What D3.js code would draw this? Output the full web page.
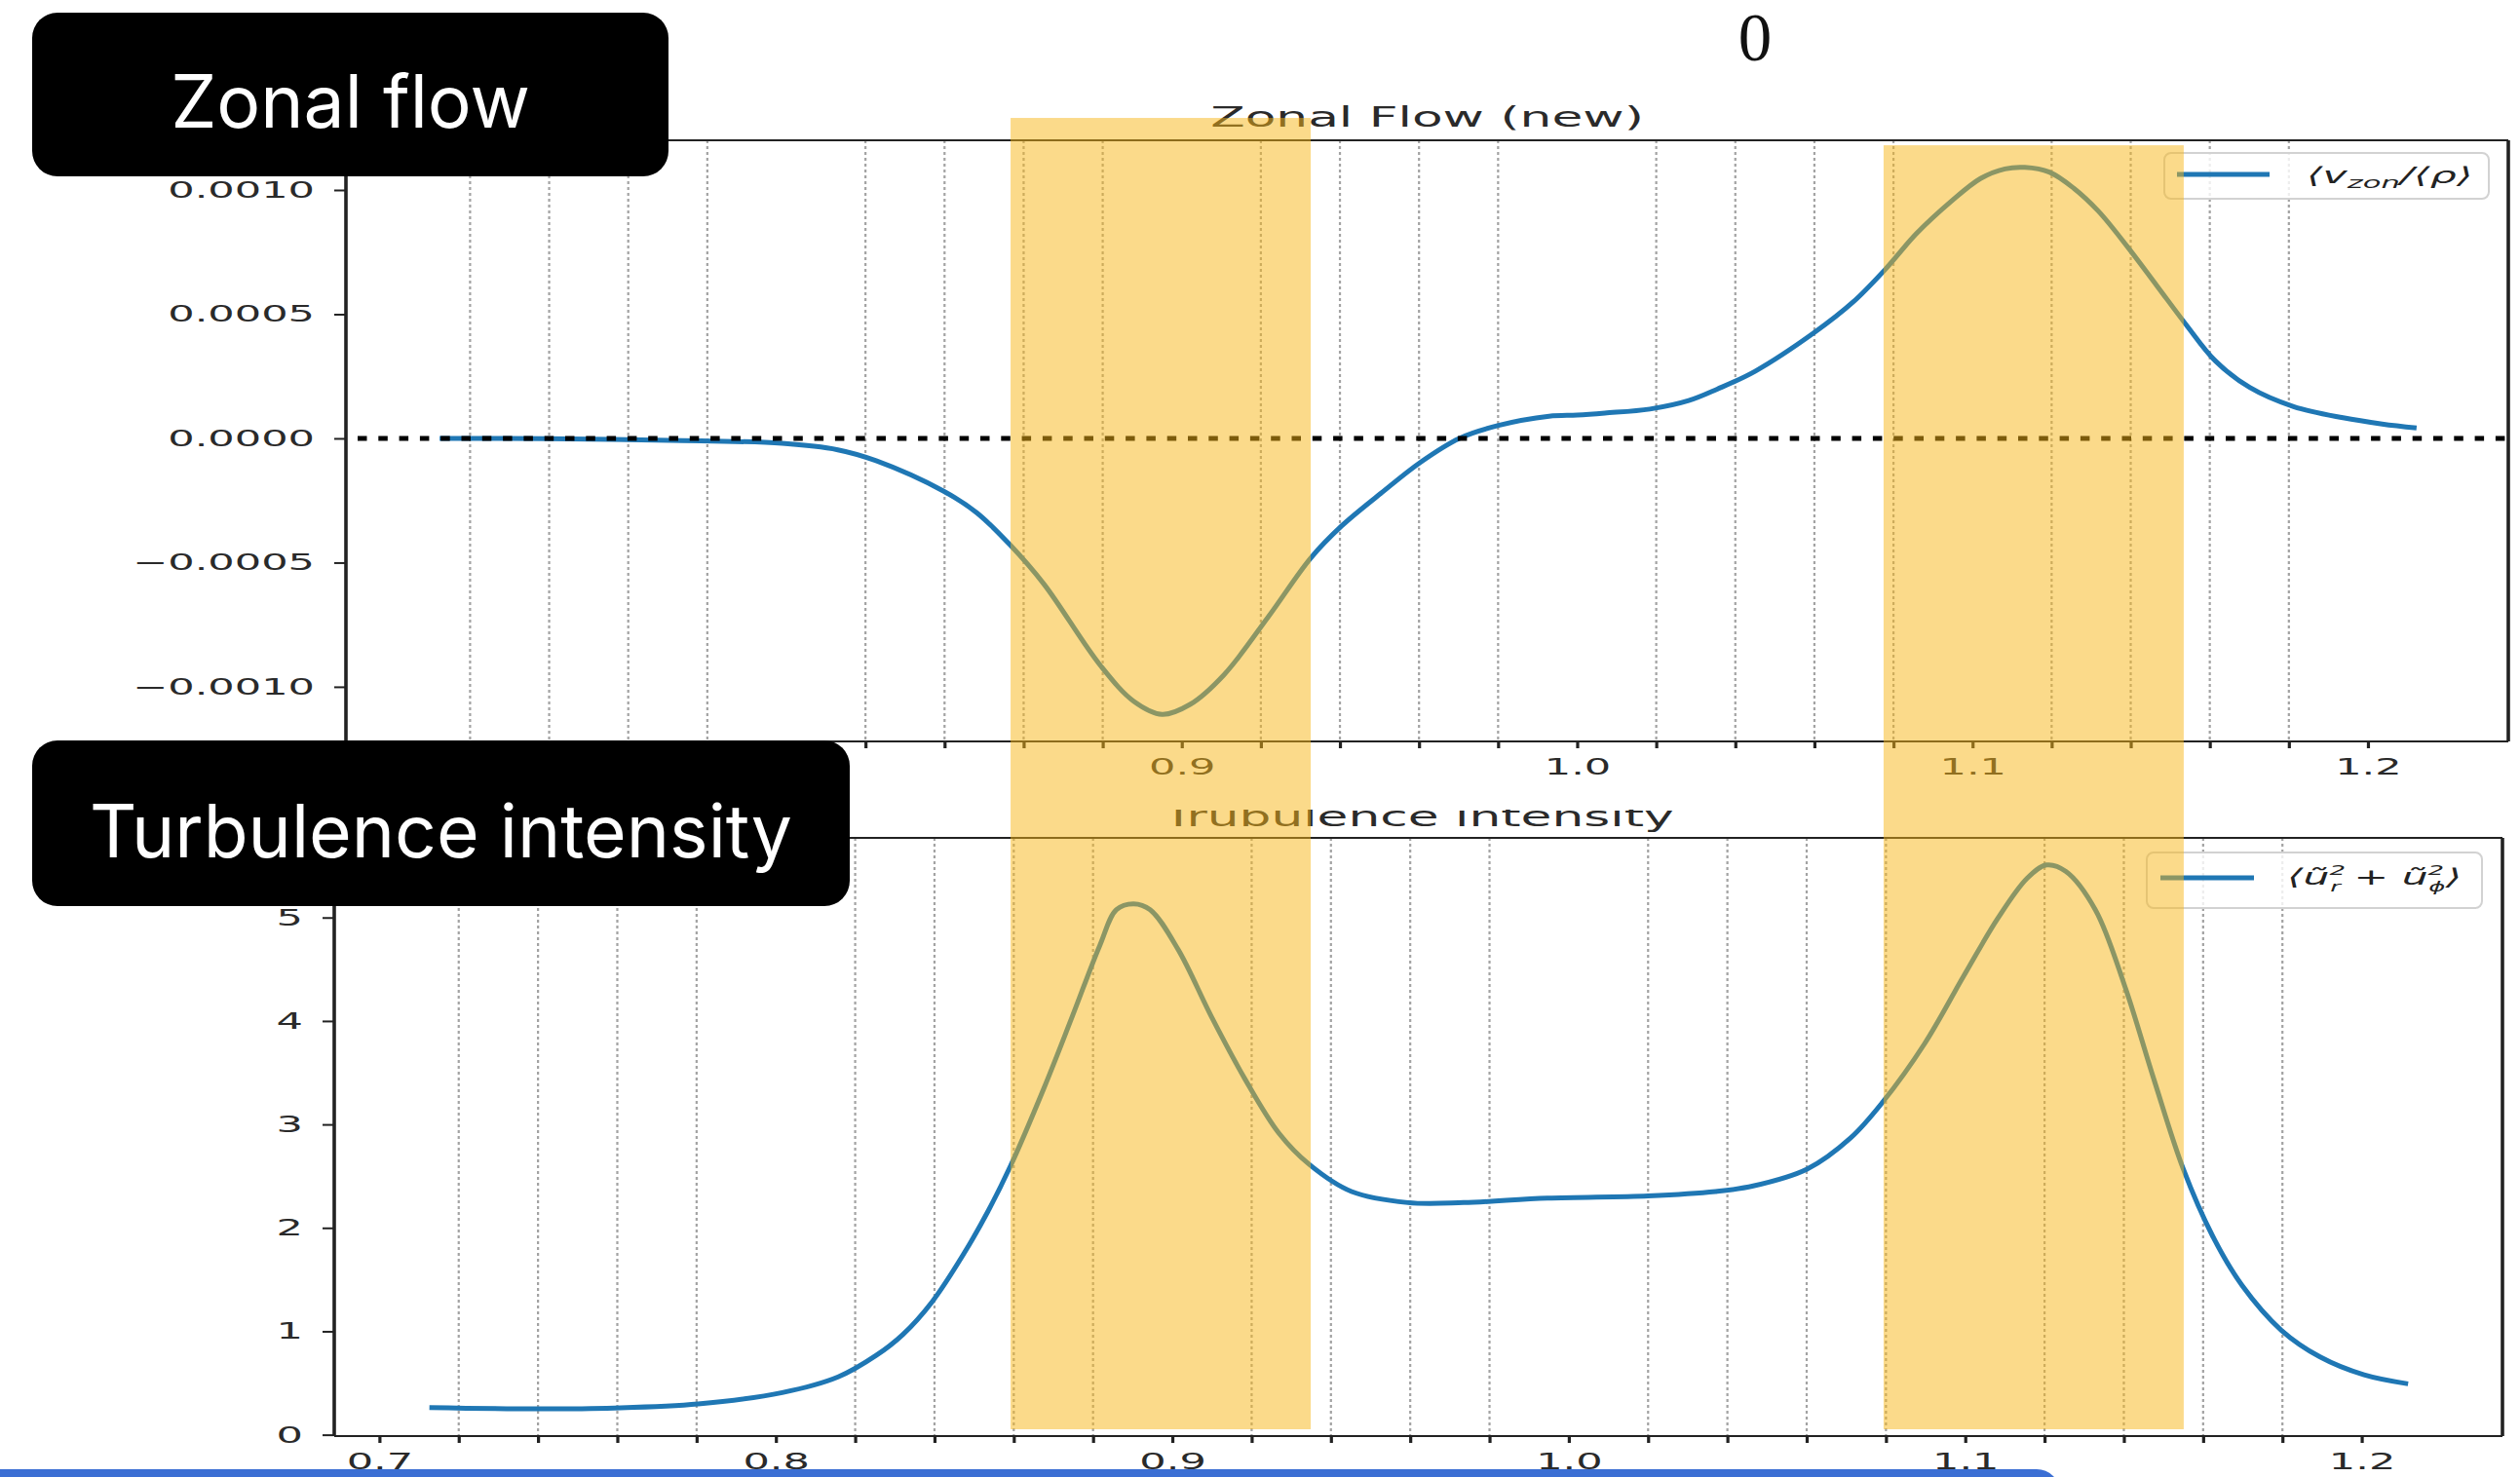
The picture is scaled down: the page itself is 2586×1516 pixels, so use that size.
<!DOCTYPE html>
<html>
<head>
<meta charset="utf-8">
<script src="https://cdn.jsdelivr.net/npm/d3@7"></script>
<style>
  html, body { margin: 0; padding: 0; background: #fff; }
  svg { display: block; }
</style>
</head>
<body>
<svg id="fig" width="2586" height="1516"></svg>
<script>
// ---- data -------------------------------------------------------------
// radial coordinate of the zonal-flow profile
const zonalRho = [
  0.7123, 0.7394, 0.7705, 0.7989, 0.8130, 0.8227, 0.8397, 0.8482, 0.8567, 0.8652,
  0.8794, 0.8879, 0.8950, 0.9021, 0.9106, 0.9219, 0.9326, 0.9404, 0.9503, 0.9602,
  0.9702, 0.9801, 0.9929, 1.0000, 1.0070, 1.0184, 1.0282, 1.0354, 1.0450, 1.0599,
  1.0698, 1.0779, 1.0858, 1.0946, 1.1020, 1.1082, 1.1132, 1.1194, 1.1256, 1.1318,
  1.1392, 1.1466, 1.1540, 1.1614, 1.1701, 1.1812, 1.1937, 1.2036, 1.2123
];
// <v_zon>/<rho>
const zonalFlow = [
  0.0, -0.000001, -0.000008, -0.00002, -0.000046, -0.000090, -0.000212, -0.000300, -0.000431, -0.000588,
  -0.000914, -0.001059, -0.001111, -0.001071, -0.000953, -0.000718, -0.000482, -0.000353, -0.000222, -0.000098,
  0.0, 0.000052, 0.000089, 0.000094, 0.000102, 0.000118, 0.000152, 0.000198, 0.000270, 0.000425,
  0.000549, 0.00068, 0.000824, 0.000954, 0.001046, 0.001085, 0.001091, 0.001072, 0.001007, 0.000915,
  0.000771, 0.000615, 0.000458, 0.000312, 0.000205, 0.000128, 0.000083, 0.000058, 0.000042
];

// radial coordinate of the turbulence-intensity profile
const turbRho = [
  0.7126, 0.7394, 0.7592, 0.7804, 0.8016, 0.8157, 0.8253, 0.8320, 0.8395, 0.8474,
  0.8535, 0.8592, 0.8676, 0.8747, 0.8817, 0.8859, 0.8902, 0.8944, 0.9015, 0.9099,
  0.9184, 0.9269, 0.9346, 0.9452, 0.9594, 0.9735, 0.9946, 1.0200, 1.0370, 1.0465,
  1.0601, 1.0711, 1.0792, 1.0897, 1.0995, 1.1082, 1.1156, 1.1205, 1.1254, 1.1328,
  1.1402, 1.1476, 1.1550, 1.1624, 1.1698, 1.1797, 1.1895, 1.2006, 1.2117
];
// <u_r^2 + u_phi^2>
const turbIntensity = [
  0.263, 0.250, 0.258, 0.297, 0.407, 0.559, 0.767, 0.968, 1.290, 1.750,
  2.160, 2.600, 3.350, 4.038, 4.730, 5.076, 5.133, 5.076, 4.688, 4.038,
  3.433, 2.914, 2.611, 2.351, 2.244, 2.244, 2.287, 2.309, 2.351, 2.405,
  2.568, 2.870, 3.217, 3.778, 4.427, 4.991, 5.379, 5.508, 5.445, 5.076,
  4.341, 3.433, 2.568, 1.920, 1.444, 1.011, 0.752, 0.579, 0.492
];

// ticks
const xTickValues = [0.7, 0.8, 0.9, 1.0, 1.1, 1.2];
const xMinorValues = [0.72, 0.74, 0.76, 0.78, 0.82, 0.84, 0.86, 0.88, 0.92, 0.94,
                      0.96, 0.98, 1.02, 1.04, 1.06, 1.08, 1.12, 1.14, 1.16, 1.18];
const zonalTicks = [-0.0010, -0.0005, 0.0, 0.0005, 0.0010];
const turbTicks = [0, 1, 2, 3, 4, 5];

// highlighted shear layers (radial spans), and how far up/down the highlight reaches
const highlightSpans = [[0.8592, 0.9349], [1.0794, 1.1551]];
const highlightTopZonal = [0.00129, 0.00118];   // in zonal-flow units
const highlightBottomTurb = 0.053;              // in turbulence units

// text
const zonalTitle = "Zonal Flow (new)";
const turbTitle = "Trubulence intensity";
const zonalBadge = "Zonal flow";
const turbBadge = "Turbulence intensity";
const pageMark = "0";

// ---- layout ------------------------------------------------------------
const W = 2586, H = 1516;
const SX = 1.85;                       // horizontal stretch of plot lettering
const xDomain = [0.6886, 1.2355];
const BLUE = "#1f77b4";
const INK = "#222";
const PLOT_FONT = "'DejaVu Sans', sans-serif";

const svg = d3.select("#fig");
svg.append("rect").attr("width", W).attr("height", H).attr("fill", "#fff");

const panels = {
  turb:  { left: 343, right: 2568, top: 860, bottom: 1474, yDomain: [-0.013, 5.77] },
  zonal: { left: 355, right: 2574, top: 144, bottom: 761,  yDomain: [-0.00122, 0.0012] }
};

function stretchTicks(axisG) {
  axisG.selectAll(".tick text").each(function () {
    const t = d3.select(this);
    const x0 = +t.attr("x") || 0;
    t.attr("x", x0 / SX).attr("transform", `scale(${SX},1)`);
  });
}

function drawPanel(layer, p, opts) {
  const x = d3.scaleLinear().domain(xDomain).range([p.left, p.right]);
  const y = d3.scaleLinear().domain(p.yDomain).range([p.bottom, p.top]);
  const g = layer.append("g");

  // dotted vertical grid on the minor radial ticks
  g.append("g").selectAll("line").data(xMinorValues).join("line")
    .attr("x1", d => x(d)).attr("x2", d => x(d))
    .attr("y1", p.top).attr("y2", p.bottom)
    .attr("stroke", "#a3a3a3").attr("stroke-width", 2.2)
    .attr("stroke-dasharray", "3,3");

  // profile
  const line = d3.line().x(d => x(d[0])).y(d => y(d[1])).curve(d3.curveCatmullRom.alpha(0.5));
  g.append("path").datum(d3.zip(opts.xs, opts.ys))
    .attr("d", line).attr("fill", "none")
    .attr("stroke", BLUE).attr("stroke-width", 5)
    .attr("stroke-linejoin", "round").attr("stroke-linecap", "butt");

  // zero reference
  if (opts.zeroLine) {
    g.append("line")
      .attr("x1", p.left + 2).attr("x2", p.right - 2)
      .attr("y1", y(0)).attr("y2", y(0))
      .attr("stroke", "#000").attr("stroke-width", 5)
      .attr("stroke-dasharray", "9.5,11.8").attr("stroke-dashoffset", -10);
  }

  // spines
  const sp = g.append("g").attr("stroke", INK);
  sp.append("line").attr("x1", p.left).attr("x2", p.right).attr("y1", p.top).attr("y2", p.top).attr("stroke-width", 2.2);
  sp.append("line").attr("x1", p.left).attr("x2", p.right).attr("y1", p.bottom).attr("y2", p.bottom).attr("stroke-width", 2.2);
  sp.append("line").attr("x1", p.left).attr("x2", p.left).attr("y1", p.top).attr("y2", p.bottom).attr("stroke-width", 3.6);
  sp.append("line").attr("x1", p.right).attr("x2", p.right).attr("y1", p.top).attr("y2", p.bottom).attr("stroke-width", 3.6);

  // axes
  const xMinorAxis = g.append("g").attr("transform", `translate(0,${p.bottom})`)
    .call(d3.axisBottom(x).tickValues(xMinorValues).tickSize(7).tickFormat(""));
  const xAxis = g.append("g").attr("transform", `translate(0,${p.bottom})`)
    .call(d3.axisBottom(x).tickValues(xTickValues).tickSize(7).tickPadding(10).tickFormat(d3.format(".1f")));
  const yAxis = g.append("g").attr("transform", `translate(${p.left},0)`)
    .call(d3.axisLeft(y).tickValues(opts.yTicks).tickSize(12).tickPadding(20).tickFormat(opts.yFormat));
  [xMinorAxis, xAxis, yAxis].forEach(a => {
    a.select(".domain").remove();
    a.attr("font-family", PLOT_FONT).attr("font-size", 23.3).attr("color", INK);
    a.selectAll(".tick text").attr("fill", "#2a2a2a");
  });
  xMinorAxis.selectAll(".tick text").remove();
  xMinorAxis.selectAll(".tick line").attr("stroke-width", 3.2);
  xAxis.selectAll(".tick line").attr("stroke-width", 3.2);
  yAxis.selectAll(".tick line").attr("stroke-width", 2);
  stretchTicks(xAxis);
  stretchTicks(yAxis);

  // legend
  const L = opts.legend;
  const lg = g.append("g");
  const bx = p.right - L.inset - L.w;
  const by = p.top + L.top;
  lg.append("rect").attr("x", bx).attr("y", by)
    .attr("width", L.w).attr("height", L.h)
    .attr("rx", 7).attr("fill", "#fff").attr("fill-opacity", 0.8)
    .attr("stroke", "#d2d2d2").attr("stroke-width", 2);
  lg.append("line")
    .attr("x1", bx + L.lineFrom).attr("x2", bx + L.lineTo)
    .attr("y1", by + L.lineY).attr("y2", by + L.lineY)
    .attr("stroke", BLUE).attr("stroke-width", 5);
  const lt = lg.append("text")
    .attr("transform", `translate(${bx + L.textX},${by + L.textY}) scale(${SX},1)`)
    .attr("font-family", PLOT_FONT).attr("font-size", 23).attr("font-style", "italic")
    .attr("fill", "#222");
  L.label(lt);

  return { x, y, g };
}

// ---- lower panel: turbulence intensity ----------------------------------
const lowerLayer = svg.append("g");
const turb = drawPanel(lowerLayer, panels.turb, {
  xs: turbRho, ys: turbIntensity, yTicks: turbTicks, yFormat: d3.format("d"),
  zeroLine: false,
  legend: {
    inset: 21, top: 15, w: 344, h: 57, lineFrom: 14, lineTo: 110, lineY: 26, textX: 144, textY: 33,
    label: t => {
      // stacked super/subscripts as in the math label
      t.append("tspan").text("\u27E8\u0169");
      t.append("tspan").attr("font-size", 14).attr("dy", -10).text("2");
      t.append("tspan").attr("font-size", 14).attr("dx", -8.5).attr("dy", 17).text("r");
      t.append("tspan").attr("dy", -7).text("\u00a0+\u00a0\u0169");
      t.append("tspan").attr("font-size", 14).attr("dy", -10).text("2");
      t.append("tspan").attr("font-size", 14).attr("dx", -8.5).attr("dy", 17).text("\u03D5");
      t.append("tspan").attr("dy", -7).text("\u27E9");
    }
  }
});

// lower title; its upper edge sits under the upper figure
svg.append("clipPath").attr("id", "turbTitleClip")
  .append("rect").attr("x", 0).attr("y", 831).attr("width", W).attr("height", 200);
svg.append("g").attr("clip-path", "url(#turbTitleClip)")
  .append("text")
  .attr("transform", `translate(${(panels.turb.left + panels.turb.right) / 2},848) scale(${SX},1)`)
  .attr("text-anchor", "middle")
  .attr("font-family", PLOT_FONT).attr("font-size", 28)
  .attr("fill", "#2a2a2a")
  .text(turbTitle);

// ---- upper panel: zonal flow --------------------------------------------
const upperLayer = svg.append("g");
const zonal = drawPanel(upperLayer, panels.zonal, {
  xs: zonalRho, ys: zonalFlow, yTicks: zonalTicks, yFormat: d3.format(".4f"),
  zeroLine: true,
  legend: {
    inset: 20, top: 13, w: 333, h: 47, lineFrom: 13, lineTo: 108, lineY: 22, textX: 146, textY: 31,
    label: t => {
      t.append("tspan").text("\u27E8v");
      t.append("tspan").attr("font-size", 16.5).attr("dy", 5).text("zon");
      t.append("tspan").attr("dy", -5).text("/\u27E8\u03C1\u27E9");
    }
  }
});
upperLayer.append("text")
  .attr("transform", `translate(${(panels.zonal.left + panels.zonal.right) / 2},130) scale(${SX},1)`)
  .attr("text-anchor", "middle")
  .attr("font-family", PLOT_FONT).attr("font-size", 28)
  .attr("fill", "#2a2a2a")
  .text(zonalTitle);

// ---- highlighted shear layers across both panels -------------------------
svg.append("g").selectAll("rect").data(highlightSpans).join("rect")
  .attr("x", d => turb.x(d[0]))
  .attr("width", d => turb.x(d[1]) - turb.x(d[0]))
  .attr("y", (d, i) => zonal.y(highlightTopZonal[i]))
  .attr("height", (d, i) => turb.y(highlightBottomTurb) - zonal.y(highlightTopZonal[i]))
  .attr("fill", "#f8b616").attr("fill-opacity", 0.5);

// ---- badges ---------------------------------------------------------------
const badges = [
  { text: zonalBadge, x: 33, y: 13, w: 653, h: 168, base: 131 },
  { text: turbBadge,  x: 33, y: 760, w: 839, h: 170, base: 880 }
];
const bg = svg.append("g");
badges.forEach(b => {
  bg.append("rect").attr("x", b.x).attr("y", b.y).attr("width", b.w).attr("height", b.h)
    .attr("rx", 26).attr("fill", "#000");
  bg.append("text").attr("x", b.x + b.w / 2).attr("y", b.base)
    .attr("text-anchor", "middle").attr("font-family", "Inter, 'Open Sans', sans-serif")
    .attr("font-size", 75).attr("fill", "#fff").text(b.text);
});

// page marker
svg.append("text").attr("x", 1801).attr("y", 62).attr("text-anchor", "middle")
  .attr("font-family", "'Liberation Serif', serif").attr("font-size", 69)
  .attr("fill", "#111").text(pageMark);

// bottom toolbar edge
svg.append("rect").attr("x", -40).attr("y", 1508).attr("width", 2154).attr("height", 60)
  .attr("rx", 24).attr("fill", "#3b6fd4");
</script>
</body>
</html>
